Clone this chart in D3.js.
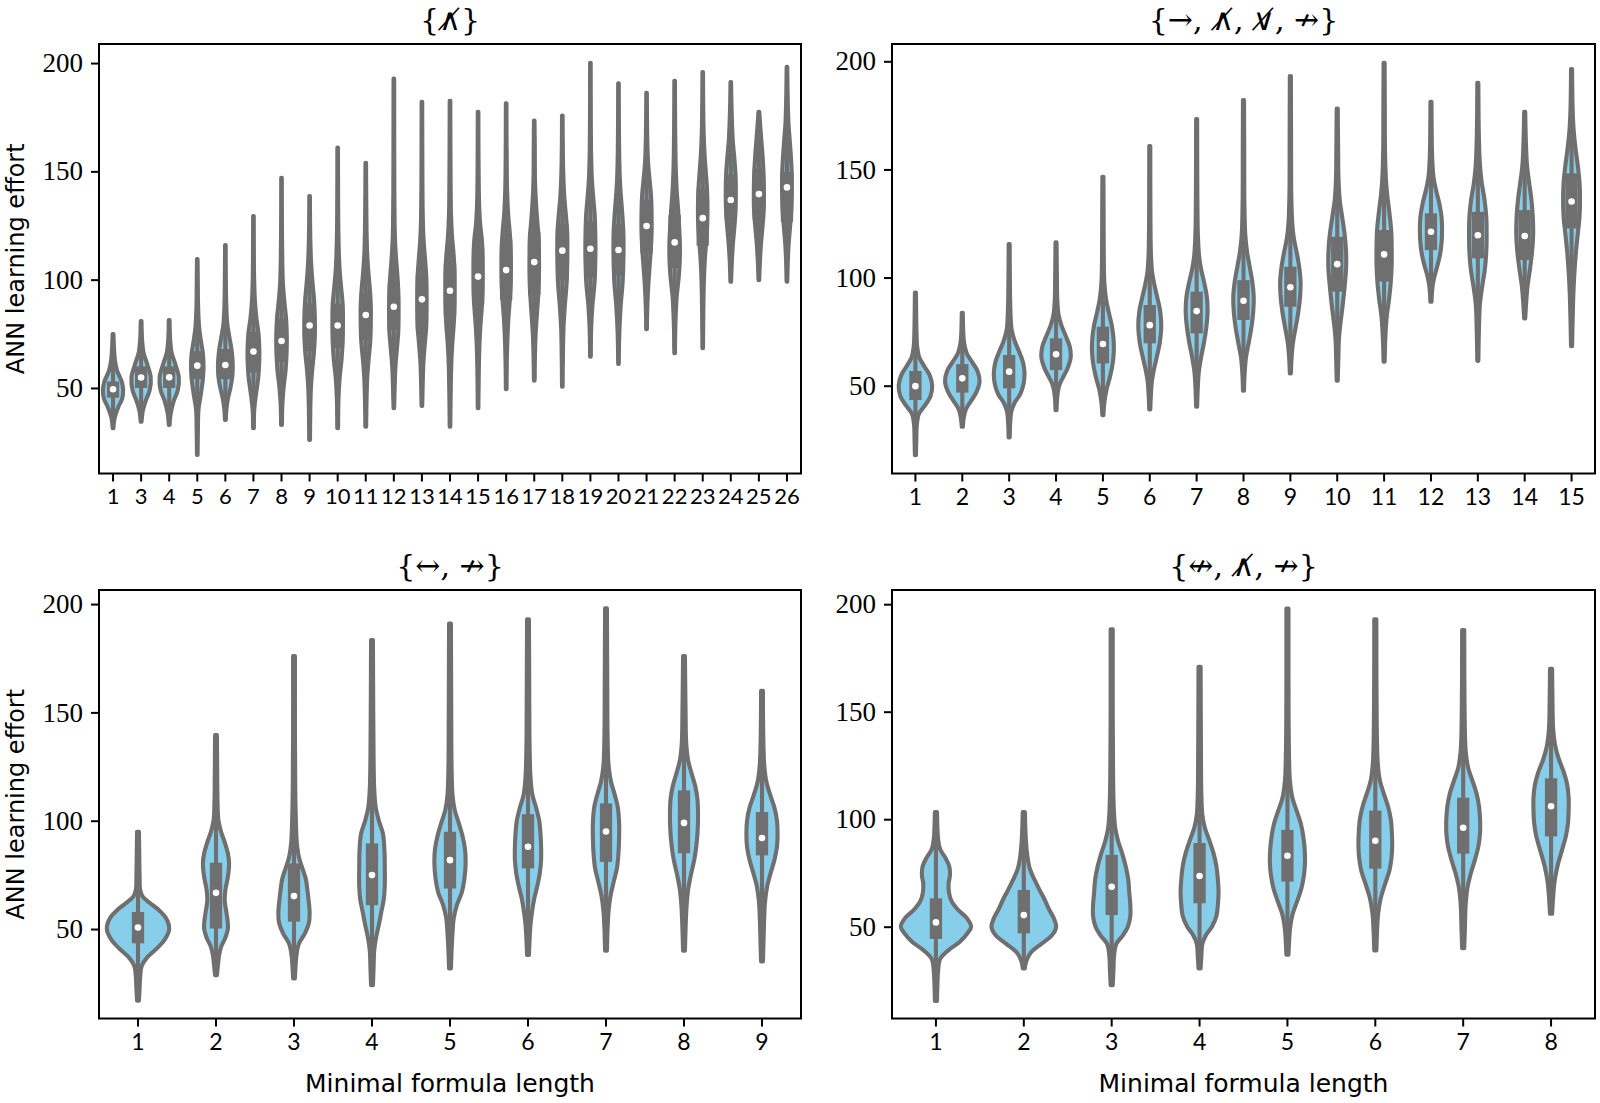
<!DOCTYPE html>
<html><head><meta charset="utf-8">
<script src="https://cdn.jsdelivr.net/npm/d3@7"></script>
<style>body{margin:0;background:#fff}</style>
</head><body>
<svg id="chart" width="1600" height="1103"></svg>
<script>
// ---------------- DATA ----------------
const titleTL = "{\u2227\u0338}";
const titleTR = "{\u2192, \u2227\u0338, \u2228\u0338, \u219B}";
const titleBL = "{\u2194, \u219B}";
const titleBR = "{\u21AE, \u2227\u0338, \u219B}";
const xAxisLabel = "Minimal formula length";
const yAxisLabel = "ANN learning effort";
const yTicks = [50, 100, 150, 200];

const tlCategories = ["1","3","4","5","6","7","8","9","10","11","12","13","14","15","16","17","18","19","20","21","22","23","24","25","26"];
const trCategories = ["1","2","3","4","5","6","7","8","9","10","11","12","13","14","15"];
const blCategories = ["1","2","3","4","5","6","7","8","9"];
const brCategories = ["1","2","3","4","5","6","7","8"];

// [low end, q1, median, q3, high end]
const tlStats = [
 [31.4,45.5,49.4,53,74.9],[34.4,50,54.8,60,80.9],[32.9,50,54.9,60,81.4],[19.1,54,60.3,67,109.5],
 [35.2,54,60.6,68,116],[31.4,57,66.8,76,129.4],[32.9,62,71.7,82,147],[26,67,78.8,89,138.6],
 [31.4,68.3,78.8,89,161],[32.1,72.1,83.7,93.7,154],[40.6,76.8,87.5,98.3,192.9],[41.7,76.8,90.9,102.1,182.1],
 [32.1,82.9,94.9,107.2,182.6],[40.6,88.3,101.4,114.9,177.5],[49.4,90.6,104.4,118.7,181.4],[53.4,92.9,108.1,122.1,173.4],
 [50.6,99.8,113.4,125.7,175.8],[64.4,101.1,114.3,127.1,200.1],[61.1,102.1,113.7,125.7,190.6],[77.1,112.1,124.8,137,186.3],
 [66,105.2,117.2,129.8,191.8],[68.3,115.7,128.4,141.8,195.8],[99,127.5,136.8,148.6,191.2],[99.8,127.5,139.5,151.4,177.5],
 [99,126.7,142.6,149.8,198.3]
];
const trStats = [
 [17.9,43.4,49.8,56.8,93.1],[31,46.8,53.4,60,83.7],[26.1,48.8,56.5,64.2,115.5],[38.7,57.2,64.5,71.9,116.3],
 [36.4,60.3,69.3,77.3,146.6],[39,69.6,78,87.3,160.8],[40.3,74.2,84.5,93.5,173.3],[47.7,80.4,89.3,98.8,182.1],
 [55.7,86.5,95.5,105,193.2],[52.3,93.5,106.2,118.9,178.2],[61.1,98.1,110.7,122,199.3],[88.8,112.7,121.2,129.7,181.3],
 [61.5,108.9,119.6,130.4,190.1],[81.1,108.1,119.2,131.2,176.7],[68.3,122.7,135.2,148.2,196.4]
];
const blStats = [
 [16.9,43.4,50.7,57.9,94.9],[28.7,50.3,66.7,80.6,139.5],[27.2,53.4,65.2,80.3,176],[24.1,61,74.9,89.5,183.4],
 [31.8,68.7,81.8,94.9,191],[38,78,88,103,193],[40,81,95,108,198],[40,85,99,114,176],[35,84,92,104,160]
];
const brStats = [
 [15.5,44.3,52,63.2,103.3],[30.6,46.9,55.4,67.1,103.3],[22.8,55.4,68.6,83.4,188.3],[30.6,60.9,73.6,88.9,170.9],
 [37,71,83,95,198],[39,77,90,104,193],[40,84,96,110,188],[56,92,106,119,170]
];

// density outline: [value, relative half-width]
const tlShapes = [
 [[31.4,0.04],[36,0.15],[41,0.5],[45,0.9],[49,1.0],[53,0.85],[58,0.4],[63,0.18],[68,0.1],[74.9,0.04]],
 [[34.4,0.04],[39,0.15],[44,0.45],[49,0.85],[55,0.95],[61,0.6],[66,0.25],[72,0.1],[80.9,0.04]],
 [[32.9,0.04],[38,0.14],[44,0.45],[49,0.85],[55,0.95],[61,0.6],[66,0.25],[72,0.1],[81.4,0.04]],
 [[19.1,0.03],[30,0.06],[40,0.12],[47,0.35],[54,0.55],[60,0.62],[66,0.55],[72,0.35],[78,0.18],[88,0.08],[100,0.05],[109.5,0.03]],
 [[35.2,0.04],[40,0.1],[45,0.25],[50,0.5],[56,0.7],[62,0.72],[68,0.6],[74,0.38],[80,0.18],[90,0.08],[100,0.05],[116,0.03]],
 [[31.4,0.04],[40,0.08],[47,0.25],[55,0.48],[62,0.57],[68,0.58],[75,0.5],[82,0.3],[90,0.15],[100,0.07],[115,0.04],[129.4,0.03]],
 [[32.9,0.04],[42,0.08],[50,0.2],[58,0.4],[66,0.5],[74,0.52],[82,0.45],[90,0.28],[98,0.14],[110,0.07],[125,0.04],[147,0.03]],
 [[26,0.04],[40,0.07],[50,0.13],[58,0.25],[66,0.42],[74,0.52],[82,0.52],[90,0.45],[98,0.3],[106,0.17],[115,0.09],[125,0.05],[138.6,0.03]],
 [[31.4,0.04],[45,0.08],[55,0.2],[63,0.38],[72,0.5],[80,0.52],[88,0.5],[96,0.35],[104,0.2],[112,0.12],[125,0.06],[140,0.04],[161,0.03]],
 [[32.1,0.04],[45,0.08],[55,0.15],[63,0.28],[72,0.45],[80,0.5],[88,0.5],[96,0.4],[104,0.25],[112,0.14],[122,0.08],[135,0.05],[154,0.03]],
 [[40.6,0.03],[50,0.08],[60,0.16],[68,0.3],[76,0.44],[84,0.47],[92,0.46],[100,0.38],[108,0.25],[116,0.14],[125,0.08],[140,0.05],[160,0.04],[192.9,0.03]],
 [[41.7,0.03],[52,0.08],[62,0.15],[70,0.28],[78,0.42],[86,0.46],[94,0.46],[102,0.42],[110,0.3],[118,0.17],[128,0.09],[145,0.05],[182.1,0.03]],
 [[32.1,0.03],[45,0.06],[60,0.12],[70,0.22],[80,0.38],[88,0.45],[96,0.46],[104,0.45],[112,0.35],[120,0.2],[130,0.1],[145,0.06],[165,0.04],[182.6,0.03]],
 [[40.6,0.03],[55,0.06],[68,0.12],[78,0.22],[86,0.35],[94,0.44],[102,0.46],[110,0.45],[118,0.38],[126,0.2],[135,0.1],[150,0.05],[177.5,0.03]],
 [[49.4,0.03],[62,0.06],[72,0.12],[82,0.22],[90,0.35],[98,0.45],[106,0.47],[114,0.45],[122,0.35],[130,0.2],[140,0.1],[155,0.05],[181.4,0.03]],
 [[53.4,0.03],[65,0.07],[75,0.14],[85,0.28],[95,0.42],[103,0.47],[111,0.47],[119,0.44],[127,0.3],[135,0.18],[145,0.08],[160,0.05],[173.4,0.03]],
 [[50.6,0.03],[65,0.06],[78,0.12],[88,0.25],[98,0.42],[106,0.48],[114,0.5],[122,0.48],[130,0.35],[138,0.2],[148,0.1],[160,0.05],[175.8,0.03]],
 [[64.4,0.03],[78,0.08],[88,0.2],[98,0.4],[106,0.47],[114,0.5],[122,0.48],[130,0.42],[138,0.28],[146,0.15],[158,0.07],[175,0.04],[200.1,0.03]],
 [[61.1,0.03],[75,0.08],[88,0.22],[98,0.4],[106,0.47],[114,0.5],[122,0.48],[130,0.38],[138,0.25],[146,0.14],[158,0.07],[175,0.04],[190.6,0.03]],
 [[77.1,0.03],[88,0.08],[98,0.18],[106,0.3],[114,0.42],[122,0.5],[130,0.5],[138,0.45],[146,0.3],[154,0.15],[165,0.07],[186.3,0.03]],
 [[66,0.03],[80,0.08],[92,0.2],[100,0.38],[108,0.5],[116,0.52],[124,0.45],[132,0.35],[140,0.22],[150,0.12],[162,0.07],[180,0.04],[191.8,0.03]],
 [[68.3,0.03],[85,0.06],[100,0.12],[110,0.22],[118,0.35],[126,0.45],[134,0.47],[142,0.42],[150,0.3],[158,0.18],[168,0.09],[180,0.05],[195.8,0.03]],
 [[99,0.03],[108,0.1],[116,0.2],[124,0.35],[132,0.47],[140,0.5],[148,0.47],[156,0.35],[164,0.2],[172,0.12],[182,0.06],[191.2,0.03]],
 [[99.8,0.03],[108,0.1],[116,0.2],[124,0.35],[132,0.48],[140,0.5],[148,0.47],[156,0.38],[164,0.25],[170,0.15],[177.5,0.04]],
 [[99,0.03],[108,0.08],[116,0.16],[124,0.3],[132,0.43],[140,0.48],[148,0.48],[156,0.4],[164,0.28],[172,0.15],[182,0.08],[198.3,0.03]]
];
const trShapes = [
 [[17.9,0.03],[25,0.05],[32,0.08],[37,0.2],[41,0.55],[45,0.85],[50,0.95],[55,0.8],[59,0.5],[63,0.22],[68,0.1],[75,0.06],[85,0.04],[93.1,0.03]],
 [[31,0.03],[35,0.08],[39,0.2],[43,0.5],[47,0.8],[52,0.98],[57,0.85],[61,0.55],[65,0.25],[70,0.1],[76,0.05],[83.7,0.03]],
 [[26.1,0.03],[33,0.06],[38,0.12],[42,0.3],[46,0.62],[51,0.82],[56,0.87],[61,0.78],[66,0.55],[71,0.3],[76,0.14],[85,0.07],[100,0.04],[115.5,0.03]],
 [[38.7,0.03],[45,0.07],[50,0.18],[54,0.4],[58,0.65],[63,0.83],[68,0.78],[73,0.55],[78,0.3],[83,0.14],[90,0.07],[100,0.05],[116.3,0.03]],
 [[36.4,0.03],[42,0.08],[48,0.2],[54,0.4],[60,0.55],[66,0.62],[72,0.6],[78,0.5],[84,0.33],[90,0.18],[98,0.08],[110,0.05],[130,0.04],[146.6,0.03]],
 [[39,0.03],[45,0.06],[52,0.12],[58,0.25],[64,0.42],[70,0.57],[77,0.65],[84,0.6],[90,0.45],[96,0.28],[102,0.14],[110,0.07],[125,0.04],[160.8,0.03]],
 [[40.3,0.03],[48,0.06],[56,0.12],[63,0.25],[70,0.42],[77,0.55],[84,0.62],[91,0.58],[98,0.42],[104,0.25],[110,0.14],[120,0.07],[140,0.04],[173.3,0.03]],
 [[47.7,0.03],[55,0.06],[63,0.14],[70,0.3],[77,0.45],[84,0.55],[91,0.58],[98,0.5],[105,0.35],[112,0.2],[120,0.1],[135,0.05],[160,0.04],[182.1,0.03]],
 [[55.7,0.03],[63,0.07],[70,0.15],[77,0.3],[84,0.45],[91,0.55],[98,0.58],[105,0.5],[112,0.35],[118,0.2],[126,0.1],[140,0.05],[165,0.04],[193.2,0.03]],
 [[52.3,0.03],[62,0.06],[72,0.1],[80,0.2],[88,0.32],[96,0.42],[104,0.5],[112,0.5],[120,0.42],[128,0.28],[136,0.14],[146,0.07],[160,0.05],[178.2,0.03]],
 [[61.1,0.03],[72,0.07],[82,0.15],[90,0.28],[98,0.38],[106,0.43],[114,0.43],[122,0.4],[130,0.3],[138,0.18],[146,0.1],[160,0.05],[180,0.04],[199.3,0.03]],
 [[88.8,0.03],[95,0.08],[100,0.18],[105,0.35],[110,0.5],[116,0.6],[122,0.63],[128,0.6],[134,0.48],[140,0.3],[146,0.15],[155,0.07],[168,0.04],[181.3,0.03]],
 [[61.5,0.03],[75,0.06],[88,0.12],[96,0.25],[104,0.4],[112,0.48],[120,0.5],[128,0.48],[136,0.38],[144,0.22],[152,0.12],[165,0.06],[190.1,0.03]],
 [[81.1,0.03],[88,0.08],[96,0.16],[104,0.3],[112,0.42],[120,0.48],[128,0.46],[136,0.38],[144,0.25],[152,0.13],[162,0.07],[176.7,0.03]],
 [[68.3,0.03],[80,0.06],[92,0.1],[102,0.16],[112,0.25],[120,0.35],[128,0.45],[136,0.48],[144,0.45],[152,0.35],[160,0.22],[168,0.12],[178,0.06],[196.4,0.03]]
];
const blShapes = [
 [[16.9,0.03],[22,0.05],[28,0.07],[33,0.12],[37,0.3],[41,0.6],[45,0.85],[50,1.0],[55,0.9],[59,0.65],[62,0.38],[65,0.15],[68,0.07],[75,0.05],[85,0.04],[94.9,0.03]],
 [[28.7,0.03],[33,0.06],[38,0.1],[42,0.17],[46,0.3],[50,0.38],[54,0.37],[58,0.33],[63,0.28],[68,0.3],[74,0.38],[80,0.42],[85,0.38],[90,0.28],[95,0.16],[100,0.08],[108,0.05],[120,0.04],[139.5,0.03]],
 [[27.2,0.03],[33,0.05],[38,0.08],[43,0.15],[48,0.35],[53,0.48],[58,0.5],[63,0.47],[68,0.43],[73,0.38],[78,0.27],[83,0.16],[90,0.09],[100,0.06],[115,0.04],[140,0.03],[176,0.03]],
 [[24.1,0.03],[32,0.05],[40,0.07],[46,0.13],[52,0.22],[58,0.3],[64,0.38],[70,0.41],[78,0.41],[86,0.4],[94,0.35],[100,0.22],[106,0.12],[115,0.07],[130,0.05],[150,0.04],[183.4,0.03]],
 [[31.8,0.03],[40,0.05],[48,0.08],[55,0.12],[61,0.22],[67,0.38],[73,0.46],[80,0.5],[87,0.48],[93,0.4],[99,0.28],[105,0.15],[112,0.08],[125,0.05],[150,0.04],[191,0.03]],
 [[38,0.03],[45,0.05],[52,0.08],[58,0.13],[64,0.2],[70,0.3],[76,0.38],[82,0.42],[88,0.42],[94,0.4],[100,0.36],[106,0.26],[112,0.14],[120,0.08],[135,0.05],[160,0.04],[193,0.03]],
 [[40,0.03],[50,0.05],[58,0.08],[65,0.14],[72,0.25],[78,0.35],[85,0.4],[92,0.42],[99,0.42],[106,0.38],[112,0.28],[118,0.16],[126,0.08],[140,0.05],[165,0.04],[198,0.03]],
 [[40,0.03],[50,0.05],[60,0.08],[68,0.13],[75,0.22],[82,0.33],[89,0.4],[96,0.44],[103,0.45],[110,0.43],[116,0.36],[122,0.24],[128,0.13],[136,0.07],[150,0.05],[176,0.03]],
 [[35,0.03],[45,0.05],[55,0.07],[63,0.1],[70,0.17],[76,0.28],[82,0.4],[88,0.48],[94,0.5],[100,0.48],[106,0.4],[112,0.26],[118,0.14],[126,0.07],[140,0.04],[160,0.03]]
];
const brShapes = [
 [[15.5,0.03],[22,0.04],[29,0.06],[35,0.12],[39,0.35],[43,0.68],[47,0.9],[50,1.0],[54,0.88],[58,0.62],[62,0.44],[66,0.37],[70,0.36],[74,0.4],[78,0.38],[82,0.27],[86,0.12],[91,0.06],[97,0.04],[103.3,0.03]],
 [[30.6,0.03],[34,0.07],[38,0.2],[42,0.5],[46,0.8],[50,0.92],[54,0.85],[58,0.72],[63,0.58],[67,0.45],[72,0.3],[77,0.17],[83,0.1],[90,0.06],[103.3,0.03]],
 [[22.8,0.03],[30,0.05],[37,0.07],[42,0.13],[46,0.32],[50,0.46],[55,0.53],[60,0.53],[66,0.5],[72,0.47],[78,0.4],[84,0.3],[90,0.18],[96,0.1],[105,0.06],[120,0.04],[150,0.03],[188.3,0.03]],
 [[30.6,0.03],[36,0.05],[42,0.08],[46,0.18],[50,0.35],[55,0.48],[60,0.52],[66,0.54],[72,0.52],[78,0.48],[84,0.4],[90,0.28],[96,0.15],[102,0.08],[112,0.05],[130,0.04],[170.9,0.03]],
 [[37,0.03],[44,0.05],[50,0.08],[56,0.15],[62,0.28],[68,0.4],[74,0.47],[80,0.5],[86,0.49],[92,0.45],[98,0.38],[104,0.26],[110,0.14],[118,0.07],[135,0.04],[165,0.03],[198,0.03]],
 [[39,0.03],[48,0.05],[56,0.08],[63,0.15],[70,0.28],[76,0.4],[82,0.46],[88,0.48],[94,0.47],[100,0.44],[106,0.36],[112,0.24],[118,0.13],[126,0.07],[145,0.04],[193,0.03]],
 [[40,0.03],[50,0.05],[60,0.07],[68,0.12],[75,0.22],[82,0.35],[88,0.44],[94,0.48],[100,0.48],[106,0.45],[112,0.38],[118,0.26],[124,0.14],[132,0.07],[150,0.04],[188,0.03]],
 [[56,0.03],[64,0.06],[71,0.1],[78,0.18],[85,0.3],[92,0.42],[98,0.48],[104,0.5],[110,0.5],[116,0.46],[122,0.36],[128,0.22],[134,0.12],[142,0.06],[155,0.04],[170,0.03]]
];

// ---------------- LAYOUT / STYLE ----------------
const FILL = "#87ceeb", GRAY = "#6f6f6f";
const LW = 4.1;
const SERIF = "'Liberation Serif','DejaVu Serif',serif";
const TITLEFONT = "'DejaVu Serif',serif";
const SANS = "Lato,'DejaVu Sans',sans-serif";
const LABELFONT = "'DejaVu Sans',sans-serif";

const panels = [
 {title:titleTL, cats:tlCategories, stats:tlStats, shapes:tlShapes, x0:99, x1:801, top:44, bottom:473.5, dom:[10.5,208.8], wf:0.9, xfs:22, ylab:true, xlab:false},
 {title:titleTR, cats:trCategories, stats:trStats, shapes:trShapes, x0:892, x1:1595, top:44, bottom:473.5, dom:[9.4,208], wf:0.94, xfs:23, ylab:false, xlab:false},
 {title:titleBL, cats:blCategories, stats:blStats, shapes:blShapes, x0:99, x1:801, top:590, bottom:1018.5, dom:[8.7,206.5], wf:1, xfs:23, ylab:true, xlab:true},
 {title:titleBR, cats:brCategories, stats:brStats, shapes:brShapes, x0:892, x1:1595, top:590, bottom:1018.5, dom:[7.3,206.6], wf:1, xfs:23, ylab:false, xlab:true}
];

const svg = d3.select("#chart");
svg.append("rect").attr("width",1600).attr("height",1103).attr("fill","#fff");

panels.forEach(p => {
  const g = svg.append("g");
  const x = d3.scaleBand().domain(p.cats).range([p.x0, p.x1]).padding(0);
  const y = d3.scaleLinear().domain(p.dom).range([p.bottom, p.top]);
  const half = x.bandwidth() * 0.4 * p.wf;

  p.cats.forEach((c, i) => {
    const cx = x(c) + x.bandwidth() / 2;
    const [lo, q1, med, q3, hi] = p.stats[i];
    const area = d3.area()
      .curve(d3.curveCatmullRom.alpha(0.5))
      .y(d => y(d[0]))
      .x0(d => cx - d[1] * half)
      .x1(d => cx + d[1] * half);
    g.append("path").attr("d", area(p.shapes[i]))
      .attr("fill", FILL).attr("stroke", GRAY).attr("stroke-width", LW)
      .attr("stroke-linejoin", "round");
    const iqr = q3 - q1;
    const wlo = Math.max(lo, q1 - 1.5 * iqr), whi = Math.min(hi, q3 + 1.5 * iqr);
    g.append("line").attr("x1", cx).attr("x2", cx).attr("y1", y(wlo)).attr("y2", y(whi))
      .attr("stroke", GRAY).attr("stroke-width", LW);
    g.append("line").attr("x1", cx).attr("x2", cx).attr("y1", y(q1)).attr("y2", y(q3))
      .attr("stroke", GRAY).attr("stroke-width", LW * 3);
    g.append("circle").attr("cx", cx).attr("cy", y(med)).attr("r", 3.3).attr("fill", "#fff");
  });

  g.append("rect").attr("x", p.x0).attr("y", p.top).attr("width", p.x1 - p.x0).attr("height", p.bottom - p.top)
    .attr("fill", "none").attr("stroke", "#000").attr("stroke-width", 2);

  const xa = g.append("g").attr("transform", `translate(0,${p.bottom})`)
    .call(d3.axisBottom(x).tickSize(8).tickPadding(7).tickSizeOuter(0));
  xa.select(".domain").remove();
  xa.selectAll(".tick line").attr("stroke", "#000").attr("stroke-width", 2);
  xa.selectAll(".tick text").attr("font-family", SANS).attr("font-size", p.xfs).attr("fill", "#000");

  const ya = g.append("g").attr("transform", `translate(${p.x0},0)`)
    .call(d3.axisLeft(y).tickValues(yTicks).tickSize(8).tickPadding(8).tickSizeOuter(0));
  ya.select(".domain").remove();
  ya.selectAll(".tick line").attr("stroke", "#000").attr("stroke-width", 2);
  ya.selectAll(".tick text").attr("font-family", SERIF).attr("font-size", 27).attr("fill", "#000");

  g.append("text").attr("x", (p.x0 + p.x1) / 2).attr("y", p.top - 14)
    .attr("text-anchor", "middle").attr("font-family", TITLEFONT).attr("font-size", 30)
    .text(p.title);

  if (p.ylab) {
    g.append("text").attr("transform", `translate(24,${(p.top + p.bottom) / 2}) rotate(-90)`)
      .attr("text-anchor", "middle").attr("font-family", LABELFONT).attr("font-size", 24)
      .text(yAxisLabel);
  }
  if (p.xlab) {
    g.append("text").attr("x", (p.x0 + p.x1) / 2).attr("y", 1092)
      .attr("text-anchor", "middle").attr("font-family", LABELFONT).attr("font-size", 25)
      .text(xAxisLabel);
  }
});
</script>
</body></html>
